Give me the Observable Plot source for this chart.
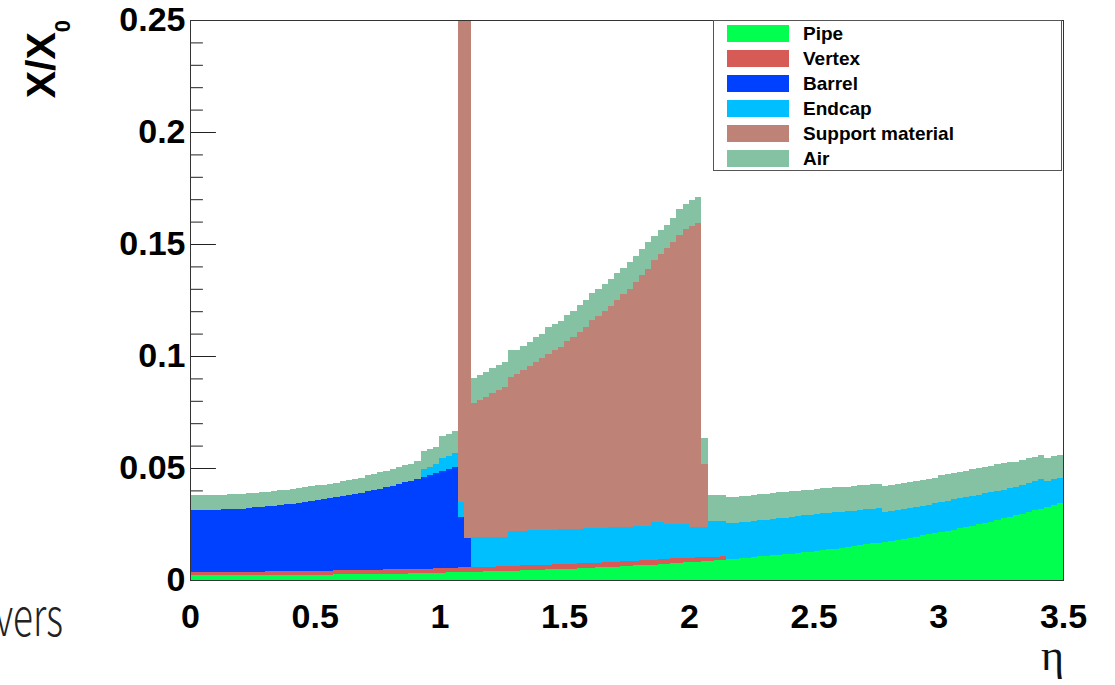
<!DOCTYPE html>
<html>
<head>
<meta charset="utf-8">
<script src="https://cdn.jsdelivr.net/npm/d3@7"></script>
<script src="https://cdn.jsdelivr.net/npm/@observablehq/plot@0.6"></script>
<style>
  body { margin: 0; background: #fff; }
  #chart { position: relative; width: 1115px; height: 685px; overflow: hidden; }
  #legend {
    position: absolute; left: 713px; top: 20px; width: 349px; height: 151px;
    border: 1px solid #555; background: #fff; box-sizing: border-box;
    font: bold 19px "Liberation Sans", Arial, sans-serif; color: #000;
  }
  #legend .row { display: flex; align-items: center; height: 25px; }
  #legend .sw { width: 62px; height: 17px; margin-left: 13px; margin-right: 14px; }
</style>
</head>
<body>
<div id="chart"><div id="legend"></div></div>
<script>
// Material budget X/X0 versus pseudorapidity, stacked by sub-detector.
// 140 bins of width 0.025 in eta, from 0 to 3.5.
const binWidth = 0.025;

const names  = ["Pipe", "Vertex", "Barrel", "Endcap", "Support material", "Air"];
const colors = ["#00ff4e", "#d65a55", "#0040ff", "#00bfff", "#bf8276", "#85c1a3"];

const pipe = [
  0.0021,0.0021,0.0021,0.0021,0.0021,0.0021,0.0021,0.0021,0.0021,0.0022,
  0.0022,0.0022,0.0022,0.0022,0.0022,0.0023,0.0023,0.0023,0.0023,0.0024,
  0.0024,0.0024,0.0024,0.0025,0.0025,0.0025,0.0026,0.0026,0.0027,0.0027,
  0.0027,0.0028,0.0028,0.0029,0.0029,0.0030,0.0030,0.0031,0.0031,0.0032,
  0.0033,0.0034,0.0034,0.0035,0.0035,0.0036,0.0037,0.0038,0.0038,0.0039,
  0.0040,0.0041,0.0042,0.0043,0.0044,0.0045,0.0046,0.0047,0.0048,0.0049,
  0.0050,0.0051,0.0052,0.0054,0.0055,0.0056,0.0057,0.0059,0.0060,0.0062,
  0.0063,0.0065,0.0066,0.0068,0.0069,0.0071,0.0073,0.0075,0.0077,0.0079,
  0.0080,0.0082,0.0084,0.0086,0.0088,0.0091,0.0093,0.0095,0.0097,0.0100,
  0.0102,0.0105,0.0107,0.0110,0.0113,0.0116,0.0118,0.0121,0.0124,0.0127,
  0.0130,0.0134,0.0137,0.0140,0.0144,0.0148,0.0151,0.0155,0.0159,0.0163,
  0.0167,0.0171,0.0176,0.0180,0.0185,0.0189,0.0194,0.0199,0.0204,0.0209,
  0.0214,0.0220,0.0225,0.0231,0.0237,0.0243,0.0249,0.0255,0.0261,0.0268,
  0.0275,0.0282,0.0289,0.0296,0.0304,0.0312,0.0319,0.0327,0.0336,0.0344
];

const vertex = [
  0.0014,0.0014,0.0014,0.0014,0.0015,0.0015,0.0015,0.0015,0.0015,0.0015,
  0.0015,0.0015,0.0016,0.0016,0.0016,0.0016,0.0017,0.0017,0.0017,0.0017,
  0.0018,0.0018,0.0018,0.0018,0.0018,0.0018,0.0018,0.0018,0.0019,0.0019,
  0.0019,0.0019,0.0020,0.0020,0.0020,0.0020,0.0020,0.0020,0.0020,0.0020,
  0.0021,0.0021,0.0021,0.0021,0.0021,0.0021,0.0021,0.0021,0.0022,0.0022,
  0.0022,0.0022,0.0022,0.0022,0.0022,0.0022,0.0022,0.0022,0.0022,0.0022,
  0.0022,0.0022,0.0022,0.0022,0.0022,0.0022,0.0022,0.0022,0.0022,0.0022,
  0.0022,0.0022,0.0022,0.0021,0.0021,0.0021,0.0021,0.0021,0.0021,0.0021,
  0.0020,0.0019,0.0018,0.0017,0.0016,0.0015,0,0,0,0,
  0,0,0,0,0,0,0,0,0,0,
  0,0,0,0,0,0,0,0,0,0,
  0,0,0,0,0,0,0,0,0,0,
  0,0,0,0,0,0,0,0,0,0,
  0,0,0,0,0,0,0,0,0,0
];

const barrel = [
  0.0277,0.0277,0.0278,0.0278,0.0278,0.0279,0.0280,0.0281,0.0283,0.0285,
  0.0287,0.0289,0.0291,0.0294,0.0296,0.0299,0.0301,0.0305,0.0308,0.0311,
  0.0314,0.0318,0.0322,0.0326,0.0331,0.0335,0.0340,0.0345,0.0350,0.0356,
  0.0362,0.0367,0.0373,0.0380,0.0387,0.0394,0.0401,0.0408,0.0416,0.0424,
  0.0432,0.0440,0.0449,0.0225,0.0130,0,0,0,0,0,
  0,0,0,0,0,0,0,0,0,0,
  0,0,0,0,0,0,0,0,0,0,
  0,0,0,0,0,0,0,0,0,0,
  0,0,0,0,0,0,0,0,0,0,
  0,0,0,0,0,0,0,0,0,0,
  0,0,0,0,0,0,0,0,0,0,
  0,0,0,0,0,0,0,0,0,0,
  0,0,0,0,0,0,0,0,0,0,
  0,0,0,0,0,0,0,0,0,0
];

const endcap = [
  0,0,0,0,0,0,0,0,0,0,
  0,0,0,0,0,0,0,0,0,0,
  0,0,0,0,0,0,0,0,0,0,
  0,0,0,0,0,0,0,0.0038,0.0038,0.0040,
  0.0058,0.0060,0.0062,0.0065,0,0.0133,0.0132,0.0131,0.0130,0.0129,
  0.0128,0.0155,0.0155,0.0155,0.0155,0.0155,0.0155,0.0155,0.0155,0.0155,
  0.0155,0.0155,0.0155,0.0154,0.0155,0.0155,0.0155,0.0154,0.0154,0.0153,
  0.0153,0.0152,0.0152,0.0151,0.0168,0.0166,0.0158,0.0156,0.0154,0.0152,
  0.0136,0.0135,0.0134,0.0160,0.0159,0.0157,0.0161,0.0161,0.0161,0.0161,
  0.0162,0.0162,0.0163,0.0163,0.0163,0.0163,0.0165,0.0165,0.0164,0.0164,
  0.0164,0.0163,0.0162,0.0162,0.0160,0.0159,0.0159,0.0157,0.0156,0.0155,
  0.0153,0.0133,0.0132,0.0133,0.0133,0.0133,0.0133,0.0133,0.0133,0.0133,
  0.0135,0.0134,0.0135,0.0134,0.0133,0.0133,0.0132,0.0132,0.0132,0.0131,
  0.0129,0.0128,0.0127,0.0128,0.0129,0.0129,0.0131,0.0113,0.0116,0.0112
];

const support = [
  0,0,0,0,0,0,0,0,0,0,
  0,0,0,0,0,0,0,0,0,0,
  0,0,0,0,0,0,0,0,0,0,
  0,0,0,0,0,0,0,0,0,0,
  0,0,0,0.30,0.30,0.0600,0.0615,0.0628,0.0643,0.0657,
  0.0672,0.0687,0.0701,0.0717,0.0734,0.0753,0.0769,0.0786,0.0800,0.0814,
  0.0838,0.0857,0.0879,0.0900,0.0928,0.0947,0.0966,0.0990,0.1014,0.1038,
  0.1062,0.1091,0.1120,0.1150,0.1172,0.1197,0.1228,0.1258,0.1288,0.1313,
  0.1344,0.1359,0.0280,0,0,0,0,0,0,0,
  0,0,0,0,0,0,0,0,0,0,
  0,0,0,0,0,0,0,0,0,0,
  0,0,0,0,0,0,0,0,0,0,
  0,0,0,0,0,0,0,0,0,0,
  0,0,0,0,0,0,0,0,0,0
];

const air = [
  0.0066,0.0066,0.0066,0.0066,0.0066,0.0066,0.0066,0.0066,0.0066,0.0066,
  0.0066,0.0066,0.0066,0.0066,0.0066,0.0066,0.0066,0.0066,0.0066,0.0066,
  0.0066,0.0066,0.0066,0.0066,0.0068,0.0068,0.0068,0.0068,0.0072,0.0072,
  0.0072,0.0072,0.0076,0.0076,0.0076,0.0076,0.0080,0.0079,0.0079,0.0079,
  0.0098,0.0098,0.0098,0.0110,0.0110,0.0112,0.0112,0.0112,0.0112,0.0112,
  0.0112,0.0120,0.0108,0.0108,0.0108,0.0108,0.0108,0.0118,0.0118,0.0118,
  0.0118,0.0118,0.0118,0.0118,0.0120,0.0120,0.0120,0.0120,0.0120,0.0120,
  0.0120,0.0118,0.0118,0.0118,0.0106,0.0106,0.0106,0.0106,0.0115,0.0115,
  0.0115,0.0115,0.0120,0.0116,0.0116,0.0116,0.0115,0.0115,0.0115,0.0115,
  0.0115,0.0115,0.0115,0.0115,0.0115,0.0115,0.0113,0.0113,0.0113,0.0113,
  0.0113,0.0113,0.0113,0.0113,0.0110,0.0110,0.0110,0.0110,0.0110,0.0110,
  0.0110,0.0115,0.0115,0.0115,0.0115,0.0115,0.0115,0.0115,0.0115,0.0115,
  0.0118,0.0118,0.0118,0.0118,0.0118,0.0118,0.0118,0.0118,0.0118,0.0118,
  0.0118,0.0118,0.0110,0.0110,0.0110,0.0110,0.0110,0.0105,0.0102,0.0100
];

const yMajorTicks = [0, 0.05, 0.1, 0.15, 0.2, 0.25];
const yMinorTicks = [0.01, 0.02, 0.03, 0.04, 0.06, 0.07, 0.08, 0.09, 0.11, 0.12, 0.13, 0.14,
                     0.16, 0.17, 0.18, 0.19, 0.21, 0.22, 0.23, 0.24];
const xMajorTicks = [0, 0.5, 1, 1.5, 2, 2.5, 3, 3.5];

// Stack the layers bin by bin, bottom to top in legend order.
const layers = [pipe, vertex, barrel, endcap, support, air];
const nBins = pipe.length;
const points = [];
const base = new Array(nBins).fill(0);
layers.forEach((vals, k) => {
  for (let i = 0; i <= nBins; i++) {
    const j = Math.min(i, nBins - 1);          // closing point repeats the last bin
    points.push({series: names[k], x: i * binWidth, y1: base[j], y2: base[j] + vals[j]});
  }
  for (let i = 0; i < nBins; i++) base[i] += vals[i];
});

// Inward-pointing axis tick, drawn along the vector direction.
const tickShape = {draw(context, l) { context.moveTo(0, 0); context.lineTo(0, -l); }};

const chart = Plot.plot({
  width: 1115,
  height: 685,
  marginLeft: 190,
  marginRight: 52,
  marginTop: 20,
  marginBottom: 105,
  x: {domain: [0, 3.5]},
  y: {domain: [0, 0.25]},
  color: {domain: names, range: colors},
  style: {
    fontFamily: "'Liberation Sans', Arial, sans-serif",
    fontWeight: "bold",
    fontSize: "34px",
    color: "#000",
    background: "#fff",
    overflow: "visible"
  },
  marks: [
    Plot.vector(yMinorTicks, {x: () => 0, y: d => d, length: 12, rotate: 90, anchor: "start",
                              shape: tickShape, stroke: "#222", strokeWidth: 1}),
    Plot.vector(yMajorTicks, {x: () => 0, y: d => d, length: 25, rotate: 90, anchor: "start",
                              shape: tickShape, stroke: "#222", strokeWidth: 1}),
    Plot.area(points, {x1: "x", y1: "y1", y2: "y2", z: "series", fill: "series",
                       curve: "step-after", clip: true, shapeRendering: "crispEdges"}),
    Plot.frame({stroke: "#333", strokeWidth: 1}),
    Plot.axisY(yMajorTicks, {tickSize: 0, tickPadding: 5, tickFormat: d3.format("~g"), label: null}),
    Plot.axisX(xMajorTicks, {tickSize: 0, tickPadding: 23, tickFormat: d3.format("~g"), label: null})
  ]
});

const host = document.getElementById("chart");
host.insertBefore(chart, host.firstChild);

const svg = d3.select(chart);

// Y axis title X/X0 (rotated, subscript zero)
const yTitle = svg.append("text")
  .attr("transform", "translate(55,20) rotate(-90)")
  .attr("text-anchor", "end")
  .style("font-family", "'Liberation Sans', Arial, sans-serif")
  .style("font-weight", "bold")
  .attr("fill", "#000");
yTitle.append("tspan").style("font-size", "41px").text("X/X");
yTitle.append("tspan").style("font-size", "22px").attr("dy", 15).text("0");

// X axis title
svg.append("text")
  .attr("x", 1064).attr("y", 670)
  .attr("text-anchor", "end")
  .style("font-family", "'Liberation Serif', 'DejaVu Serif', serif")
  .style("font-weight", "normal")
  .style("font-size", "44px")
  .attr("fill", "#111")
  .text("η");

// Slide text at lower left
svg.append("text")
  .attr("x", -5).attr("y", 636)
  .attr("text-anchor", "start")
  .attr("textLength", 68)
  .attr("lengthAdjust", "spacingAndGlyphs")
  .style("font-family", "'Noto Sans CJK SC', 'Noto Sans', sans-serif")
  .style("font-weight", "300")
  .style("font-size", "52px")
  .attr("fill", "#222")
  .text("vers");

// Legend
const legend = d3.select("#legend");
names.forEach((n, k) => {
  const row = legend.append("div").attr("class", "row");
  row.append("div").attr("class", "sw").style("background", colors[k]);
  row.append("span").text(n);
});
</script>
</body>
</html>
